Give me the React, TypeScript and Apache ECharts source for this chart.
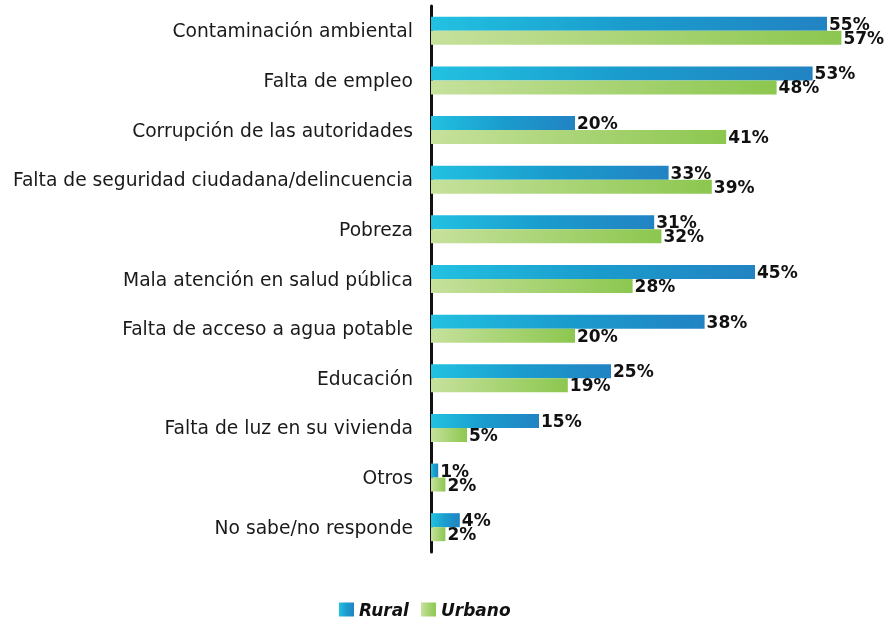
import React, { useEffect, useRef } from "react";
import * as echarts from "echarts";

const categories = [
  "Contaminación ambiental",
  "Falta de empleo",
  "Corrupción de las autoridades",
  "Falta de seguridad ciudadana/delincuencia",
  "Pobreza",
  "Mala atención en salud pública",
  "Falta de acceso a agua potable",
  "Educación",
  "Falta de luz en su vivienda",
  "Otros",
  "No sabe/no responde",
];
const rural = [55, 53, 20, 33, 31, 45, 38, 25, 15, 1, 4];
const urbano = [57, 48, 41, 39, 32, 28, 20, 19, 5, 2, 2];

const FONT = "'DejaVu Sans', sans-serif";

export default function App() {
  const ref = useRef<HTMLDivElement>(null);
  useEffect(() => {
    if (!ref.current) return;
    const chart = echarts.init(ref.current, null, { renderer: "svg" });
    const ruralGrad = new echarts.graphic.LinearGradient(0, 0, 1, 0, [
      { offset: 0, color: "#22c1e1" },
      { offset: 0.5, color: "#1a9ccd" },
      { offset: 1, color: "#2283c3" },
    ]);
    const urbanGrad = new echarts.graphic.LinearGradient(0, 0, 1, 0, [
      { offset: 0, color: "#c6e19c" },
      { offset: 1, color: "#8cc74f" },
    ]);
    const label = {
      show: true,
      position: "right" as const,
      distance: 2,
      formatter: "{c}%",
      color: "#111",
      fontWeight: "bold" as const,
      fontSize: 17,
      lineHeight: 14,
      fontFamily: FONT,
    };
    chart.setOption({
      animation: false,
      grid: { left: 431, width: 432, top: 6, height: 546, containLabel: false },
      legend: {
        top: 596,
        left: 334,
        itemWidth: 15,
        itemHeight: 14,
        itemGap: 12,
        icon: "rect",
        textStyle: {
          fontFamily: FONT,
          fontSize: 17,
          fontStyle: "italic",
          fontWeight: "bold",
          color: "#111",
          lineHeight: 16,
        },
        data: ["Rural", "Urbano"],
      },
      xAxis: {
        type: "value",
        min: 0,
        max: 60,
        show: false,
      },
      yAxis: {
        type: "category",
        data: categories,
        inverse: true,
        axisLine: { show: true, lineStyle: { color: "#111", width: 3 } },
        axisTick: { show: false },
        axisLabel: {
          margin: 18,
          fontFamily: FONT,
          fontSize: 18.7,
          color: "#1a1a1a",
        },
      },
      series: [
        {
          name: "Rural",
          type: "bar",
          data: rural,
          barWidth: 14,
          barGap: "0%",
          itemStyle: { color: ruralGrad },
          label,
        },
        {
          name: "Urbano",
          type: "bar",
          data: urbano,
          barWidth: 14,
          barGap: "0%",
          itemStyle: { color: urbanGrad },
          label,
        },
      ],
    });
    return () => chart.dispose();
  }, []);
  return (
    <div
      ref={ref}
      style={{ position: "fixed", left: 0, top: 0, width: 887, height: 620 }}
    />
  );
}
